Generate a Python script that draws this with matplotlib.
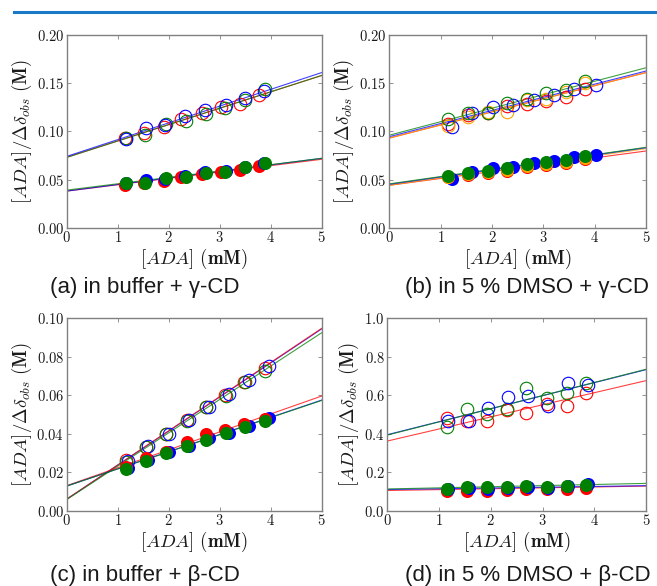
import matplotlib

matplotlib.use("Agg")
import matplotlib.pyplot as plt
from matplotlib.lines import Line2D
from matplotlib.ticker import FuncFormatter, MultipleLocator

plt.rcParams["mathtext.fontset"] = "cm"

W, H = 657, 586
RED, GREEN, BLUE, ORANGE = "#ff0000", "#008000", "#0000ff", "#ffa500"

# (a) in buffer + gamma-CD
A_X_RED = [1.14, 1.52, 1.90, 2.25, 2.65, 3.02, 3.40, 3.78]
A_X_BLUE = [1.16, 1.56, 1.93, 2.32, 2.71, 3.12, 3.50, 3.86]
A_X_GREEN = [1.16, 1.54, 1.94, 2.34, 2.73, 3.10, 3.50, 3.88]
A_OPEN_RED = [0.0927, 0.098, 0.104, 0.113, 0.119, 0.125, 0.128, 0.138]
A_OPEN_BLUE = [0.0917, 0.103, 0.107, 0.116, 0.122, 0.127, 0.135, 0.142]
A_OPEN_GREEN = [0.0934, 0.096, 0.108, 0.111, 0.118, 0.124, 0.133, 0.144]
A_FILL_RED = [0.0443, 0.0467, 0.0484, 0.053, 0.0554, 0.0578, 0.0599, 0.0644]
A_FILL_BLUE = [0.046, 0.0495, 0.0505, 0.054, 0.0574, 0.059, 0.0625, 0.0668]
A_FILL_GREEN = [0.046, 0.0467, 0.0512, 0.053, 0.057, 0.058, 0.063, 0.0668]
# fit lines: value at [ADA]=0 and [ADA]=5
A_FIT_OPEN = {RED: (0.073, 0.158), GREEN: (0.073, 0.158), BLUE: (0.074, 0.161)}
A_FIT_FILL = {RED: (0.038, 0.071), BLUE: (0.038, 0.072), GREEN: (0.039, 0.072)}

# (b) in 5 % DMSO + gamma-CD
B_X = [1.15, 1.54, 1.93, 2.30, 2.68, 3.05, 3.44, 3.82]
B_X_BLUE = [1.22, 1.62, 2.02, 2.41, 2.81, 3.20, 3.60, 4.02]
B_OPEN_GREEN = [0.113, 0.119, 0.119, 0.129, 0.134, 0.140, 0.143, 0.152]
B_OPEN_ORANGE = [0.106, 0.115, 0.120, 0.120, 0.1325, 0.134, 0.141, 0.150]
B_OPEN_RED = [0.108, 0.117, 0.119, 0.126, 0.128, 0.131, 0.136, 0.144]
B_OPEN_BLUE = [0.105, 0.119, 0.125, 0.127, 0.1325, 0.138, 0.1436, 0.148]
B_FILL_GREEN = [0.0535, 0.057, 0.0585, 0.062, 0.066, 0.068, 0.070, 0.074]
B_FILL_BLUE = [0.051, 0.058, 0.0616, 0.0626, 0.0668, 0.0695, 0.073, 0.0754]
B_FILL_RED = [0.0525, 0.055, 0.057, 0.059, 0.063, 0.065, 0.0675, 0.071]
B_FILL_ORANGE = [0.053, 0.056, 0.058, 0.060, 0.064, 0.066, 0.068, 0.072]
B_FIT_OPEN = {RED: (0.093, 0.161), ORANGE: (0.093, 0.161), BLUE: (0.0945, 0.1626), GREEN: (0.096, 0.166)}
B_FIT_FILL = {RED: (0.044, 0.0796), ORANGE: (0.044, 0.082), BLUE: (0.045, 0.083), GREEN: (0.0455, 0.0834)}

# (c) in buffer + beta-CD
C_X_RED = [1.16, 1.55, 1.95, 2.35, 2.73, 3.10, 3.48, 3.88]
C_X_BLUE = [1.20, 1.60, 2.00, 2.40, 2.79, 3.18, 3.58, 3.97]
C_X_GREEN = [1.16, 1.55, 1.95, 2.35, 2.74, 3.12, 3.50, 3.89]
C_OPEN_RED = [0.0263, 0.0333, 0.0399, 0.047, 0.054, 0.060, 0.067, 0.074]
C_OPEN_BLUE = [0.026, 0.0336, 0.040, 0.047, 0.054, 0.0605, 0.068, 0.075]
C_OPEN_GREEN = [0.0255, 0.033, 0.0397, 0.0466, 0.0537, 0.0596, 0.0667, 0.0726]
C_FILL_RED = [0.0229, 0.0272, 0.0307, 0.0359, 0.0397, 0.0420, 0.0452, 0.0478]
C_FILL_BLUE = [0.022, 0.0263, 0.0303, 0.0338, 0.0376, 0.0402, 0.044, 0.0484]
C_FILL_GREEN = [0.0215, 0.026, 0.0302, 0.0335, 0.037, 0.0405, 0.0437, 0.0465]
C_FIT_OPEN = {BLUE: (0.006, 0.0945), RED: (0.006, 0.0948), GREEN: (0.0058, 0.0925)}
C_FIT_FILL = {RED: (0.013, 0.0596), BLUE: (0.0128, 0.0575), GREEN: (0.0128, 0.0573)}

# (d) in 5 % DMSO + beta-CD
D_X = [1.15, 1.55, 1.93, 2.32, 2.69, 3.08, 3.47, 3.85]
D_X_BLUE = [1.17, 1.57, 1.95, 2.34, 2.71, 3.10, 3.49, 3.87]
D_OPEN_RED = [0.4835, 0.466, 0.468, 0.523, 0.506, 0.553, 0.546, 0.61]
D_OPEN_GREEN = [0.437, 0.5286, 0.501, 0.5286, 0.636, 0.584, 0.6135, 0.6655]
D_OPEN_BLUE = [0.466, 0.466, 0.532, 0.593, 0.598, 0.544, 0.6655, 0.653]
D_FILL_RED = [0.102, 0.102, 0.102, 0.107, 0.113, 0.111, 0.113, 0.116]
D_FILL_BLUE = [0.112, 0.118, 0.115, 0.118, 0.123, 0.118, 0.126, 0.137]
D_FILL_GREEN = [0.113, 0.125, 0.121, 0.121, 0.13, 0.121, 0.128, 0.133]
D_FIT_OPEN = {RED: (0.362, 0.676), BLUE: (0.395, 0.733), GREEN: (0.393, 0.735)}
D_FIT_FILL = {RED: (0.105, 0.128), BLUE: (0.11, 0.13), GREEN: (0.113, 0.142)}

CAPTIONS = [
    "(a) in buffer + γ-CD",
    "(b) in 5 % DMSO + γ-CD",
    "(c) in buffer + β-CD",
    "(d) in 5 % DMSO + β-CD",
]

PANELS = [
    dict(
        box=(66.7, 35, 321.7, 227.7), ymax=0.20, ystep=0.05, fmt="{:.2f}",
        fits=[A_FIT_OPEN, A_FIT_FILL],
        open=[(A_X_RED, A_OPEN_RED, RED), (A_X_GREEN, A_OPEN_GREEN, GREEN), (A_X_BLUE, A_OPEN_BLUE, BLUE)],
        fill=[(A_X_RED, A_FILL_RED, RED), (A_X_BLUE, A_FILL_BLUE, BLUE), (A_X_GREEN, A_FILL_GREEN, GREEN)],
    ),
    dict(
        box=(389.3, 35, 646, 227.7), ymax=0.20, ystep=0.05, fmt="{:.2f}",
        fits=[B_FIT_OPEN, B_FIT_FILL],
        open=[(B_X, B_OPEN_RED, RED), (B_X, B_OPEN_ORANGE, ORANGE), (B_X_BLUE, B_OPEN_BLUE, BLUE), (B_X, B_OPEN_GREEN, GREEN)],
        fill=[(B_X_BLUE, B_FILL_BLUE, BLUE), (B_X, B_FILL_RED, RED), (B_X, B_FILL_ORANGE, ORANGE), (B_X, B_FILL_GREEN, GREEN)],
    ),
    dict(
        box=(66.7, 318.3, 321.7, 510.7), ymax=0.10, ystep=0.02, fmt="{:.2f}",
        fits=[C_FIT_OPEN, C_FIT_FILL],
        open=[(C_X_RED, C_OPEN_RED, RED), (C_X_GREEN, C_OPEN_GREEN, GREEN), (C_X_BLUE, C_OPEN_BLUE, BLUE)],
        fill=[(C_X_BLUE, C_FILL_BLUE, BLUE), (C_X_RED, C_FILL_RED, RED), (C_X_GREEN, C_FILL_GREEN, GREEN)],
    ),
    dict(
        box=(387.3, 318.3, 646, 510.7), ymax=1.0, ystep=0.2, fmt="{:.1f}",
        fits=[D_FIT_OPEN, D_FIT_FILL],
        open=[(D_X, D_OPEN_RED, RED), (D_X, D_OPEN_GREEN, GREEN), (D_X_BLUE, D_OPEN_BLUE, BLUE)],
        fill=[(D_X, D_FILL_RED, RED), (D_X_BLUE, D_FILL_BLUE, BLUE), (D_X, D_FILL_GREEN, GREEN)],
    ),
]

CAPTION_POS = [(50, 287), (405, 287), (50, 575), (405, 575)]

FRAME = "#808080"
TEXT = "#1a1a1a"


def draw_panel(fig, panel):
    x0, y0, x1, y1 = panel["box"]
    ax = fig.add_axes([x0 / W, 1 - y1 / H, (x1 - x0) / W, (y1 - y0) / H])
    for fit in panel["fits"]:
        for color, (start, end) in fit.items():
            ax.plot([0, 5], [start, end], color=color, lw=0.8, alpha=0.75, zorder=2)
    for xs, ys, color in panel["open"]:
        ax.plot(xs, ys, "o", ms=9.0, mfc="none", mec=color, mew=0.8, zorder=3)
    for xs, ys, color in panel["fill"]:
        ax.plot(xs, ys, "o", ms=9.4, mfc=color, mec=color, mew=0.0, zorder=3)

    ax.set_xlim(0, 5)
    ax.set_ylim(0, panel["ymax"])
    ax.xaxis.set_major_locator(MultipleLocator(1))
    ax.yaxis.set_major_locator(MultipleLocator(panel["ystep"]))
    ax.xaxis.set_major_formatter(FuncFormatter(lambda v, _: f"${v:.0f}$"))
    fmt = panel["fmt"]
    ax.yaxis.set_major_formatter(FuncFormatter(lambda v, _: "$" + fmt.format(v) + "$"))
    ax.tick_params(direction="in", length=3, width=0.6, color=FRAME, labelsize=10.5,
                   labelcolor=TEXT, top=True, right=True, pad=2)
    for spine in ax.spines.values():
        spine.set_color(FRAME)
        spine.set_linewidth(1.0)
    ax.set_xlabel(r"$[ADA]$ $\mathbf{(mM)}$", fontsize=13.5, color=TEXT, labelpad=1)
    ax.set_ylabel(r"$[ADA]/\Delta\delta_{obs}$ $\mathbf{(M)}$", fontsize=13.5, color=TEXT, labelpad=2)
    return ax


def main():
    fig = plt.figure(figsize=(W / 100, H / 100), dpi=100)
    fig.add_artist(Line2D([14 / W, 1.0], [1 - 12 / H, 1 - 12 / H], color="#1a78c8", lw=2.2))
    for panel in PANELS:
        draw_panel(fig, panel)
    for caption, (cx, cy) in zip(CAPTIONS, CAPTION_POS):
        fig.text(cx / W, 1 - cy / H, caption, ha="left", va="center", fontsize=16,
                 family=["Liberation Sans", "DejaVu Sans"], color=TEXT)
    fig.savefig("out.png", dpi=100)


if __name__ == "__main__":
    main()
